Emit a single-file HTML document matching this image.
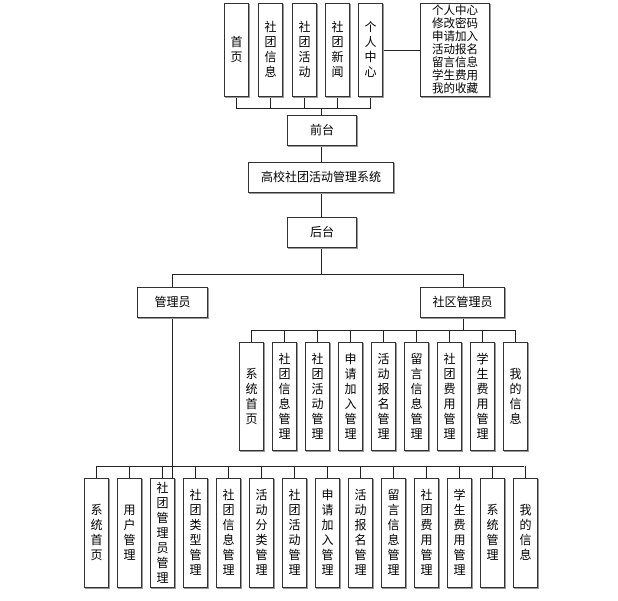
<!DOCTYPE html>
<html><head><meta charset="utf-8"><style>
body{margin:0;background:#fff;width:618px;height:601px;position:relative;overflow:hidden;font-family:"Liberation Sans","Noto Sans CJK SC",sans-serif;font-size:12px;color:#000}
.b{position:absolute;box-sizing:border-box;border:1px solid #333;box-shadow:1px 1px 0 #999;display:flex;align-items:center;justify-content:center;text-align:center;background:#fff;line-height:15px}
.v{width:25px;word-break:break-all;padding:0 6px}
.l{position:absolute;background:#222}
</style></head><body>
<!-- top lines -->
<div class="l" style="left:236px;top:97px;width:1px;height:12px"></div>
<div class="l" style="left:270px;top:97px;width:1px;height:12px"></div>
<div class="l" style="left:304px;top:97px;width:1px;height:12px"></div>
<div class="l" style="left:337px;top:97px;width:1px;height:12px"></div>
<div class="l" style="left:370px;top:97px;width:1px;height:12px"></div>
<div class="l" style="left:236px;top:108px;width:135px;height:1px"></div>
<div class="l" style="left:321px;top:108px;width:1px;height:8px"></div>
<div class="l" style="left:383px;top:50px;width:37px;height:1px"></div>
<div class="l" style="left:321px;top:146px;width:1px;height:16px"></div>
<div class="l" style="left:321px;top:193px;width:1px;height:24px"></div>
<div class="l" style="left:321px;top:248px;width:1px;height:26px"></div>
<div class="l" style="left:172px;top:274px;width:292px;height:1px"></div>
<div class="l" style="left:172px;top:274px;width:1px;height:13px"></div>
<div class="l" style="left:463px;top:274px;width:1px;height:13px"></div>
<div class="l" style="left:463px;top:318px;width:1px;height:12px"></div>
<div class="l" style="left:251px;top:330px;width:264px;height:1px"></div>
<div class="l" style="left:172px;top:318px;width:1px;height:160px"></div>
<div class="l" style="left:96px;top:466px;width:428px;height:1px"></div>

<div class="b v" style="left:224px;top:3px;height:94px">首页</div>
<div class="b v" style="left:258px;top:3px;height:94px">社团信息</div>
<div class="b v" style="left:292px;top:3px;height:94px">社团活动</div>
<div class="b v" style="left:325px;top:3px;height:94px">社团新闻</div>
<div class="b v" style="left:358px;top:3px;height:94px">个人中心</div>
<div class="b" style="left:420px;top:3px;width:70px;height:94px;line-height:13px;font-size:11.5px">个人中心<br>修改密码<br>申请加入<br>活动报名<br>留言信息<br>学生费用<br>我的收藏</div>
<div class="b" style="left:287px;top:115px;width:70px;height:31px">前台</div>
<div class="b" style="left:248px;top:162px;width:146px;height:31px">高校社团活动管理系统</div>
<div class="b" style="left:287px;top:217px;width:70px;height:31px">后台</div>
<div class="b" style="left:137px;top:287px;width:71px;height:31px">管理员</div>
<div class="b" style="left:420px;top:287px;width:85px;height:31px">社区管理员</div>

<div id="mid"></div>
<div id="bot"></div>
<script>
var m=["系统首页","社团信息管理","社团活动管理","申请加入管理","活动报名管理","留言信息管理","社团费用管理","学生费用管理","我的信息"];
var h="";
m.forEach(function(t,i){var x=239+33*i;h+='<div class="l" style="left:'+(x+12)+'px;top:330px;width:1px;height:12px"></div><div class="b v" style="left:'+x+'px;top:342px;height:109px">'+t+'</div>';});
document.getElementById("mid").innerHTML=h;
var b=["系统首页","用户管理","社团管理员管理","社团类型管理","社团信息管理","活动分类管理","社团活动管理","申请加入管理","活动报名管理","留言信息管理","社团费用管理","学生费用管理","系统管理","我的信息"];
h="";
b.forEach(function(t,i){var x=84+33*i;h+='<div class="l" style="left:'+(x+12)+'px;top:466px;width:1px;height:12px"></div><div class="b v" style="left:'+x+'px;top:478px;height:110px">'+t+'</div>';});
document.getElementById("bot").innerHTML=h;
</script>
<div class="l" style="left:172px;top:466px;width:1px;height:13px"></div>
</body></html>
